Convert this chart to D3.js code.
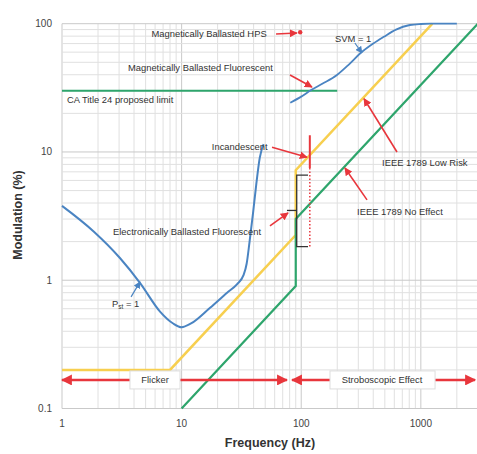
<!DOCTYPE html>
<html><head><meta charset="utf-8">
<script src="https://cdn.jsdelivr.net/npm/d3@7"></script>
<style>
body{margin:0;background:#fff;}
text{font-family:"Liberation Sans",Arial,sans-serif;}
</style></head>
<body>
<svg id="c" width="477" height="454"></svg>
<script>
// ---- data ----
const xTicks = [1, 10, 100, 1000];
const yTicks = [0.1, 1, 10, 100];
const xTickLabels = ["1", "10", "100", "1000"];
const yTickLabels = ["0.1", "1", "10", "100"];

const pstFreq = [1, 1.83, 3.05, 4.5, 6.6, 8.5, 10, 12, 17.3, 24, 29, 33, 35, 37, 39.5, 42, 45, 48.5];
const pstMod  = [3.8, 2.41, 1.49, 0.95, 0.57, 0.46, 0.43, 0.46, 0.61, 0.8, 0.93, 1.1, 1.35, 2.0, 3.3, 5.5, 9, 11.5];

const svmFreq = [81, 100, 122, 150, 199, 250, 312, 400, 490, 620, 810, 1000, 1200, 2000];
const svmMod  = [24.2, 27, 30.5, 34, 39.8, 48, 58.8, 70, 79, 90, 97.7, 99.5, 100, 100];

const lowRiskFreq = [1, 8, 90, 90, 1250];
const lowRiskMod  = [0.2, 0.2, 2.25, 7.2, 100];

const noEffectFreq = [10, 90, 90, 3000];
const noEffectMod  = [0.1, 0.9, 3.0, 100];

const caLimitFreq = [1, 200];
const caLimitMod  = [30, 30];

// annotation texts [label, freq, mod]
const labels = [
  ["Magnetically  Ballasted HPS", 5.6, 79],
  ["Magnetically  Ballasted Fluorescent", 3.56, 42.8],
  ["CA Title 24 proposed limit", 1.1, 24.1],
  ["SVM = 1", 192, 72],
  ["Incandescent", 17.9, 10.4],
  ["Electronically Ballasted Fluorescent", 2.67, 2.25],
  ["IEEE 1789 Low Risk", 474, 7.78],
  ["IEEE 1789 No Effect", 293, 3.23]
];
// arrows [f1, m1, f2, m2, colour]
const arrows = [
  [61.6, 83.1, 92, 84.6, "red"],
  [80.6, 39.8, 123, 32.1, "red"],
  [281, 70.7, 322, 59.1, "blue"],
  [57, 10.9, 111.8, 9.1, "red"],
  [54.8, 2.65, 77.6, 3.35, "red"],
  [3.78, 0.741, 4.49, 0.97, "blue"],
  [632, 10, 335, 26, "red"],
  [355, 4.23, 232, 7.5, "red"]
];
const hpsPoint = [98, 85.7];
const incSolid = [118, 13.5, 7.5];
const incDotted = [118, 7.5, 1.8];
const bracketFreq = [114, 91.7, 91.7, 114];
const bracketMod = [6.6, 6.6, 1.83, 1.83];
const bracketTick = [76, 91.7, 3.5];
const regionMod = 0.167;
const regions = [
  {label: "Flicker", center: 6.0, boxL: 3.7, boxR: 9.7, from: 1, to: 76},
  {label: "Stroboscopic Effect", center: 474, boxL: 174, boxR: 1315, from: 83.8, to: 2839}
];

// ---- chart ----
const svg = d3.select("#c");
const x = d3.scaleLog().domain([1, 3000]).range([62, 477.9]);
const y = d3.scaleLog().domain([0.1, 100]).range([408.5, 23.7]);

const RED = "#e8363c", BLUE = "#4a84c2", YEL = "#f7cf4f", GRN = "#2ea56c";

const defs = svg.append("defs");
function marker(id, col, size) {
  defs.append("marker").attr("id", id).attr("viewBox", "0 0 10 10")
    .attr("refX", 9).attr("refY", 5).attr("markerWidth", size).attr("markerHeight", size)
    .attr("markerUnits", "userSpaceOnUse").attr("orient", "auto")
    .append("path").attr("d", "M0,0 L10,5 L0,10 z").attr("fill", col);
}
marker("ar", RED, 8); marker("ab", BLUE, 7); marker("arBig", RED, 11);

// grid
const xGrid = [];
for (let d = 1; d <= 1000; d *= 10) for (let k = 1; k <= 9; k++) if (d * k <= 3000) xGrid.push(d * k);
const yGrid = [];
for (let d = 0.1; d <= 10.01; d *= 10) for (let k = 1; k <= 9; k++) yGrid.push(+(d * k).toPrecision(3));
yGrid.push(100);
const g = svg.append("g");
g.selectAll(".vx").data(xGrid).join("line")
  .attr("x1", d => x(d)).attr("x2", d => x(d)).attr("y1", y(100)).attr("y2", y(0.1))
  .attr("stroke", d => xTicks.includes(d) ? "#c9c9c9" : "#e0e0e0").attr("stroke-width", 1);
g.selectAll(".hy").data(yGrid).join("line")
  .attr("y1", d => y(d)).attr("y2", d => y(d)).attr("x1", x(1)).attr("x2", 477)
  .attr("stroke", d => yTicks.includes(d) ? "#c9c9c9" : "#e0e0e0").attr("stroke-width", 1);

// tick labels
svg.selectAll(".xt").data(xTicks).join("text")
  .attr("x", d => x(d)).attr("y", 427).attr("text-anchor", "middle")
  .attr("font-size", 10).attr("fill", "#444").text((d, i) => xTickLabels[i]);
svg.selectAll(".yt").data(yTicks).join("text")
  .attr("x", 52).attr("y", d => y(d) + 3.5).attr("text-anchor", "end")
  .attr("font-size", 10).attr("fill", "#444").text((d, i) => yTickLabels[i]);

// axis titles
svg.append("text").attr("x", 270).attr("y", 447).attr("text-anchor", "middle")
  .attr("font-size", 12.5).attr("font-weight", "bold").attr("fill", "#333").text("Frequency (Hz)");
svg.append("text").attr("transform", "translate(22,215) rotate(-90)").attr("text-anchor", "middle")
  .attr("font-size", 12.5).attr("font-weight", "bold").attr("fill", "#333").text("Modulation (%)");

const line = d3.line().x(d => x(d[0])).y(d => y(d[1]));
const zip = (a, b) => a.map((v, i) => [v, b[i]]);

// curves
svg.append("path").datum(zip(caLimitFreq, caLimitMod)).attr("d", line)
  .attr("fill", "none").attr("stroke", GRN).attr("stroke-width", 2);
svg.append("path").datum(zip(lowRiskFreq, lowRiskMod)).attr("d", line)
  .attr("fill", "none").attr("stroke", YEL).attr("stroke-width", 2.5);
svg.append("path").datum(zip(noEffectFreq, noEffectMod)).attr("d", line)
  .attr("fill", "none").attr("stroke", GRN).attr("stroke-width", 2.2);
const curve = d3.line().x(d => x(d[0])).y(d => y(d[1])).curve(d3.curveMonotoneX);
svg.append("path").datum(zip(pstFreq, pstMod)).attr("d", curve)
  .attr("fill", "none").attr("stroke", BLUE).attr("stroke-width", 2);
svg.append("path").datum(zip(svmFreq, svmMod)).attr("d", curve)
  .attr("fill", "none").attr("stroke", BLUE).attr("stroke-width", 1.8);

// bracket (electronically ballasted fluorescent)
svg.append("path").datum(zip(bracketFreq, bracketMod)).attr("d", line)
  .attr("fill", "none").attr("stroke", "#333").attr("stroke-width", 1.3);
svg.append("line").attr("x1", x(bracketTick[0])).attr("x2", x(bracketTick[1]))
  .attr("y1", y(bracketTick[2])).attr("y2", y(bracketTick[2])).attr("stroke", "#333").attr("stroke-width", 1.3);

// incandescent range
svg.append("line").attr("x1", x(incSolid[0])).attr("x2", x(incSolid[0]))
  .attr("y1", y(incSolid[1])).attr("y2", y(incSolid[2])).attr("stroke", RED).attr("stroke-width", 2);
svg.append("line").attr("x1", x(incDotted[0])).attr("x2", x(incDotted[0]))
  .attr("y1", y(incDotted[1])).attr("y2", y(incDotted[2])).attr("stroke", RED)
  .attr("stroke-width", 1.5).attr("stroke-dasharray", "1.5,2");

// HPS point
svg.append("circle").attr("cx", x(hpsPoint[0])).attr("cy", y(hpsPoint[1])).attr("r", 2.2).attr("fill", RED);

// annotation arrows
svg.selectAll(".arr").data(arrows).join("line")
  .attr("x1", d => x(d[0])).attr("y1", d => y(d[1])).attr("x2", d => x(d[2])).attr("y2", d => y(d[3]))
  .attr("stroke", d => d[4] === "red" ? RED : BLUE).attr("stroke-width", d => d[4] === "red" ? 1.6 : 1.2)
  .attr("marker-end", d => d[4] === "red" ? "url(#ar)" : "url(#ab)");

// annotation labels
svg.selectAll(".lab").data(labels).join("text")
  .attr("x", d => x(d[1])).attr("y", d => y(d[2])).attr("font-size", 9.4).attr("fill", "#333")
  .text(d => d[0]);
// P_st = 1
const pst = svg.append("text").attr("x", x(2.62)).attr("y", y(0.622)).attr("font-size", 9.4).attr("fill", "#333");
pst.append("tspan").text("P");
pst.append("tspan").attr("font-size", 6.5).attr("dy", 2.5).text("st");
pst.append("tspan").attr("dy", -2.5).text(" = 1");

// region arrows + boxes
regions.forEach(r => {
  const yy = y(regionMod);
  svg.append("line").attr("x1", x(r.boxL)).attr("x2", x(r.from)).attr("y1", yy).attr("y2", yy)
    .attr("stroke", RED).attr("stroke-width", 2.6).attr("marker-end", "url(#arBig)");
  svg.append("line").attr("x1", x(r.boxR)).attr("x2", x(r.to)).attr("y1", yy).attr("y2", yy)
    .attr("stroke", RED).attr("stroke-width", 2.6).attr("marker-end", "url(#arBig)");
  svg.append("rect").attr("x", x(r.boxL)).attr("y", yy - 9).attr("width", x(r.boxR) - x(r.boxL)).attr("height", 18)
    .attr("fill", "#fff").attr("stroke", "#ddd").attr("stroke-width", 1);
  svg.append("text").attr("x", x(r.center)).attr("y", yy + 3).attr("text-anchor", "middle")
    .attr("font-size", 9.4).attr("fill", "#333").text(r.label);
});
</script>
</body></html>
